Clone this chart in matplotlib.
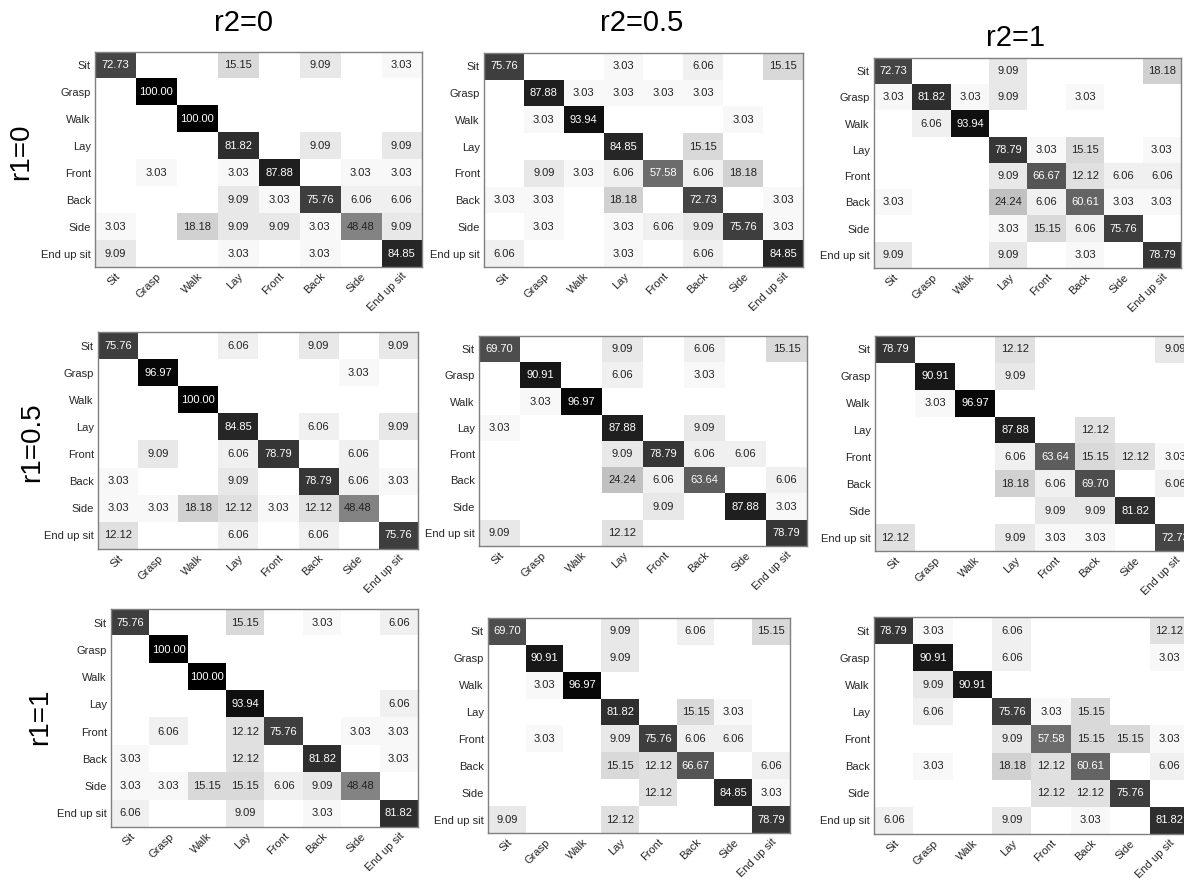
import matplotlib
matplotlib.use("Agg")
import matplotlib.pyplot as plt
import numpy as np

plt.rcParams["font.family"] = ["Liberation Sans", "DejaVu Sans"]

classes = ["Sit", "Grasp", "Walk", "Lay", "Front", "Back", "Side", "End up sit"]
r1_labels = ["r1=0", "r1=0.5", "r1=1"]
r2_labels = ["r2=0", "r2=0.5", "r2=1"]

# rows: true class, cols: predicted class (percent)
cm_r1_0_r2_0 = [
    [72.73, 0, 0, 15.15, 0, 9.09, 0, 3.03],
    [0, 100.00, 0, 0, 0, 0, 0, 0],
    [0, 0, 100.00, 0, 0, 0, 0, 0],
    [0, 0, 0, 81.82, 0, 9.09, 0, 9.09],
    [0, 3.03, 0, 3.03, 87.88, 0, 3.03, 3.03],
    [0, 0, 0, 9.09, 3.03, 75.76, 6.06, 6.06],
    [3.03, 0, 18.18, 9.09, 9.09, 3.03, 48.48, 9.09],
    [9.09, 0, 0, 3.03, 0, 3.03, 0, 84.85],
]
cm_r1_0_r2_05 = [
    [75.76, 0, 0, 3.03, 0, 6.06, 0, 15.15],
    [0, 87.88, 3.03, 3.03, 3.03, 3.03, 0, 0],
    [0, 3.03, 93.94, 0, 0, 0, 3.03, 0],
    [0, 0, 0, 84.85, 0, 15.15, 0, 0],
    [0, 9.09, 3.03, 6.06, 57.58, 6.06, 18.18, 0],
    [3.03, 3.03, 0, 18.18, 0, 72.73, 0, 3.03],
    [0, 3.03, 0, 3.03, 6.06, 9.09, 75.76, 3.03],
    [6.06, 0, 0, 3.03, 0, 6.06, 0, 84.85],
]
cm_r1_0_r2_1 = [
    [72.73, 0, 0, 9.09, 0, 0, 0, 18.18],
    [3.03, 81.82, 3.03, 9.09, 0, 3.03, 0, 0],
    [0, 6.06, 93.94, 0, 0, 0, 0, 0],
    [0, 0, 0, 78.79, 3.03, 15.15, 0, 3.03],
    [0, 0, 0, 9.09, 66.67, 12.12, 6.06, 6.06],
    [3.03, 0, 0, 24.24, 6.06, 60.61, 3.03, 3.03],
    [0, 0, 0, 3.03, 15.15, 6.06, 75.76, 0],
    [9.09, 0, 0, 9.09, 0, 3.03, 0, 78.79],
]
cm_r1_05_r2_0 = [
    [75.76, 0, 0, 6.06, 0, 9.09, 0, 9.09],
    [0, 96.97, 0, 0, 0, 0, 3.03, 0],
    [0, 0, 100.00, 0, 0, 0, 0, 0],
    [0, 0, 0, 84.85, 0, 6.06, 0, 9.09],
    [0, 9.09, 0, 6.06, 78.79, 0, 6.06, 0],
    [3.03, 0, 0, 9.09, 0, 78.79, 6.06, 3.03],
    [3.03, 3.03, 18.18, 12.12, 3.03, 12.12, 48.48, 0],
    [12.12, 0, 0, 6.06, 0, 6.06, 0, 75.76],
]
cm_r1_05_r2_05 = [
    [69.70, 0, 0, 9.09, 0, 6.06, 0, 15.15],
    [0, 90.91, 0, 6.06, 0, 3.03, 0, 0],
    [0, 3.03, 96.97, 0, 0, 0, 0, 0],
    [3.03, 0, 0, 87.88, 0, 9.09, 0, 0],
    [0, 0, 0, 9.09, 78.79, 6.06, 6.06, 0],
    [0, 0, 0, 24.24, 6.06, 63.64, 0, 6.06],
    [0, 0, 0, 0, 9.09, 0, 87.88, 3.03],
    [9.09, 0, 0, 12.12, 0, 0, 0, 78.79],
]
cm_r1_05_r2_1 = [
    [78.79, 0, 0, 12.12, 0, 0, 0, 9.09],
    [0, 90.91, 0, 9.09, 0, 0, 0, 0],
    [0, 3.03, 96.97, 0, 0, 0, 0, 0],
    [0, 0, 0, 87.88, 0, 12.12, 0, 0],
    [0, 0, 0, 6.06, 63.64, 15.15, 12.12, 3.03],
    [0, 0, 0, 18.18, 6.06, 69.70, 0, 6.06],
    [0, 0, 0, 0, 9.09, 9.09, 81.82, 0],
    [12.12, 0, 0, 9.09, 3.03, 3.03, 0, 72.73],
]
cm_r1_1_r2_0 = [
    [75.76, 0, 0, 15.15, 0, 3.03, 0, 6.06],
    [0, 100.00, 0, 0, 0, 0, 0, 0],
    [0, 0, 100.00, 0, 0, 0, 0, 0],
    [0, 0, 0, 93.94, 0, 0, 0, 6.06],
    [0, 6.06, 0, 12.12, 75.76, 0, 3.03, 3.03],
    [3.03, 0, 0, 12.12, 0, 81.82, 0, 3.03],
    [3.03, 3.03, 15.15, 15.15, 6.06, 9.09, 48.48, 0],
    [6.06, 0, 0, 9.09, 0, 3.03, 0, 81.82],
]
cm_r1_1_r2_05 = [
    [69.70, 0, 0, 9.09, 0, 6.06, 0, 15.15],
    [0, 90.91, 0, 9.09, 0, 0, 0, 0],
    [0, 3.03, 96.97, 0, 0, 0, 0, 0],
    [0, 0, 0, 81.82, 0, 15.15, 3.03, 0],
    [0, 3.03, 0, 9.09, 75.76, 6.06, 6.06, 0],
    [0, 0, 0, 15.15, 12.12, 66.67, 0, 6.06],
    [0, 0, 0, 0, 12.12, 0, 84.85, 3.03],
    [9.09, 0, 0, 12.12, 0, 0, 0, 78.79],
]
cm_r1_1_r2_1 = [
    [78.79, 3.03, 0, 6.06, 0, 0, 0, 12.12],
    [0, 90.91, 0, 6.06, 0, 0, 0, 3.03],
    [0, 9.09, 90.91, 0, 0, 0, 0, 0],
    [0, 6.06, 0, 75.76, 3.03, 15.15, 0, 0],
    [0, 0, 0, 9.09, 57.58, 15.15, 15.15, 3.03],
    [0, 3.03, 0, 18.18, 12.12, 60.61, 0, 6.06],
    [0, 0, 0, 0, 12.12, 12.12, 75.76, 0],
    [6.06, 0, 0, 9.09, 0, 3.03, 0, 81.82],
]

grid = [
    [cm_r1_0_r2_0, cm_r1_0_r2_05, cm_r1_0_r2_1],
    [cm_r1_05_r2_0, cm_r1_05_r2_05, cm_r1_05_r2_1],
    [cm_r1_1_r2_0, cm_r1_1_r2_05, cm_r1_1_r2_1],
]

W, H = 1184, 880
# panel boxes in pixels: left, top, right, bottom
boxes = [
    [(95, 52, 422, 267), (484, 53, 803, 267), (874, 58, 1181, 268)],
    [(98, 332, 418, 549), (479, 336, 807, 546), (875, 336, 1195, 551)],
    [(111, 609, 418, 827), (488, 618, 790, 833), (874, 617, 1189, 834)],
]
title_pos = [(243, 23), (642, 23), (1015, 38)]
row_label_pos = [(21, 152), (32, 442), (40, 717)]


def px_rect(x0, y0, x1, y1):
    return [x0 / W, 1 - y1 / H, (x1 - x0) / W, (y1 - y0) / H]


fig = plt.figure(figsize=(W / 100, H / 100), dpi=100, facecolor="white")

for i in range(3):
    for j in range(3):
        cm = np.array(grid[i][j], dtype=float)
        ax = fig.add_axes(px_rect(*boxes[i][j]))
        ax.imshow(cm, cmap="gray_r", vmin=0, vmax=100, aspect="auto",
                  interpolation="nearest")
        for r in range(cm.shape[0]):
            for c in range(cm.shape[1]):
                v = cm[r, c]
                if v <= 0:
                    continue
                ax.text(c, r, f"{v:.2f}", ha="center", va="center", fontsize=8,
                        color="white" if v > 50 else "#222222")
        ax.set_xticks(range(len(classes)))
        ax.set_yticks(range(len(classes)))
        ax.set_xticklabels(classes, rotation=45, ha="right", rotation_mode="anchor",
                           fontsize=8, color="#262626")
        ax.set_yticklabels(classes, fontsize=8, color="#262626")
        ax.tick_params(length=0, pad=3)
        for spine in ax.spines.values():
            spine.set_color("#808080")
            spine.set_linewidth(1.0)

for j, (x, y) in enumerate(title_pos):
    fig.text(x / W, 1 - y / H, r2_labels[j], ha="center", va="center", fontsize=21)
for i, (x, y) in enumerate(row_label_pos):
    fig.text(x / W, 1 - y / H, r1_labels[i], ha="center", va="center", fontsize=20,
             rotation=90)

fig.savefig("out.png", dpi=100, facecolor="white")
